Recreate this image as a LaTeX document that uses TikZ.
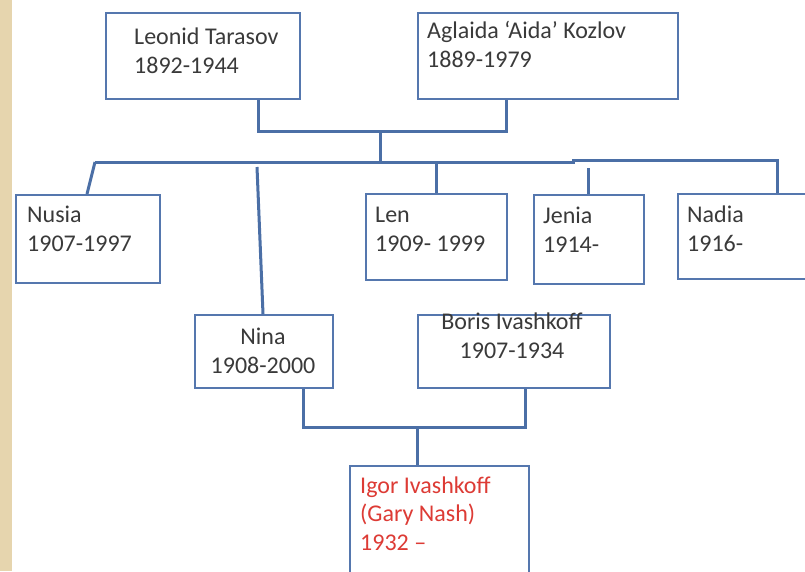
\documentclass[tikz,border=0pt]{standalone}
\usepackage{fontspec}
\setmainfont{Carlito}
\definecolor{boxblue}{HTML}{5577AE}
\definecolor{linkblue}{HTML}{4B6FA6}
\definecolor{txtgray}{HTML}{3A3A3A}
\definecolor{redtxt}{HTML}{DD3B35}
\definecolor{beige}{HTML}{E6D5AE}
\begin{document}
\begin{tikzpicture}[x=1pt,y=-1pt,
  box/.style={draw=boxblue, line width=2pt, fill=white, inner sep=0pt, anchor=north west},
  lbl/.style={anchor=base west, inner sep=0pt, align=left, font=\fontsize{24}{28.5}\selectfont, text=txtgray},
  clbl/.style={lbl, anchor=base, align=center},
  conn/.style={draw=linkblue, line width=3pt}]
\useasboundingbox (0,0) rectangle (805,571);
\clip (0,0) rectangle (805,571);
\fill[white] (0,0) rectangle (805,571);
\fill[beige] (0,0) rectangle (12,571);
% boxes
\node[box, minimum width=194pt, minimum height=86pt] (leo) at (105,12) {};
\node[box, minimum width=260pt, minimum height=86pt] (ag) at (417,12) {};
\node[box, minimum width=144pt, minimum height=88pt] (nus) at (15,194) {};
\node[box, minimum width=141pt, minimum height=86pt] (len) at (365,193) {};
\node[box, minimum width=110pt, minimum height=89pt] (jen) at (533,194) {};
\node[box, minimum width=150pt, minimum height=85pt] (nad) at (677,193) {};
\node[box, minimum width=138pt, minimum height=73pt] (nin) at (194,314) {};
\node[box, minimum width=192pt, minimum height=73pt] (bor) at (417,314) {};
\node[box, minimum width=179pt, minimum height=120pt] (igo) at (349,465) {};
% texts (base anchor = baseline of last line)
\node[lbl] (leoT) at (134,73) {Leonid Tarasov\\1892-1944};
\node[lbl] (agT) at (427,67) {Aglaida ‘Aida’ Kozlov\\1889-1979};
\node[lbl] (nusT) at (27,251) {Nusia\\1907-1997};
\node[lbl] (lenT) at (375,251) {Len\\1909- 1999};
\node[lbl] (jenT) at (543,252) {Jenia\\1914-};
\node[lbl] (nadT) at (687,251) {Nadia\\1916-};
\node[clbl] (ninT) at (263,373) {Nina\\1908-2000};
\node[clbl] (borT) at (512,358) {Boris Ivashkoff\\1907-1934};
\node[lbl, text=redtxt] (igoT) at (360,550) {Igor Ivashkoff\\(Gary Nash)\\1932 –};
% junction coordinates
\coordinate (pL) at (258,131);
\coordinate (pR) at (506,131);
\coordinate (pC) at (380,131);
\coordinate (bC) at (380,162);
\coordinate (bL) at (95,162);
\coordinate (bM) at (573,162);
\coordinate (bM2) at (573,160);
\coordinate (bR) at (777,160);
\coordinate (ninTop) at (257,167);
\coordinate (jenTop) at (588,168);
\coordinate (cL) at (303,427);
\coordinate (cR) at (525,427);
\coordinate (cC) at (417,427);
% connectors
\draw[conn] (pL |- leo.south) -- (pL) -- (pR) -- (pR |- ag.south);
\draw[conn] (pC) -- (bC);
\draw[conn] (bL) -- (bM) -- (bM2) -- (bR) -- (bR |- nad.north);
\draw[conn] (bL) -- (87,194 |- nus.north);
\draw[conn] (436,162) -- (436,162 |- len.north);
\draw[conn] (jenTop) -- (jenTop |- jen.north);
\draw[conn] (ninTop) -- (263,314 |- nin.north);
\draw[conn] (cL |- nin.south) -- (cL) -- (cR) -- (cR |- bor.south);
\draw[conn] (cC) -- (cC |- igo.north);
\end{tikzpicture}
\end{document}
